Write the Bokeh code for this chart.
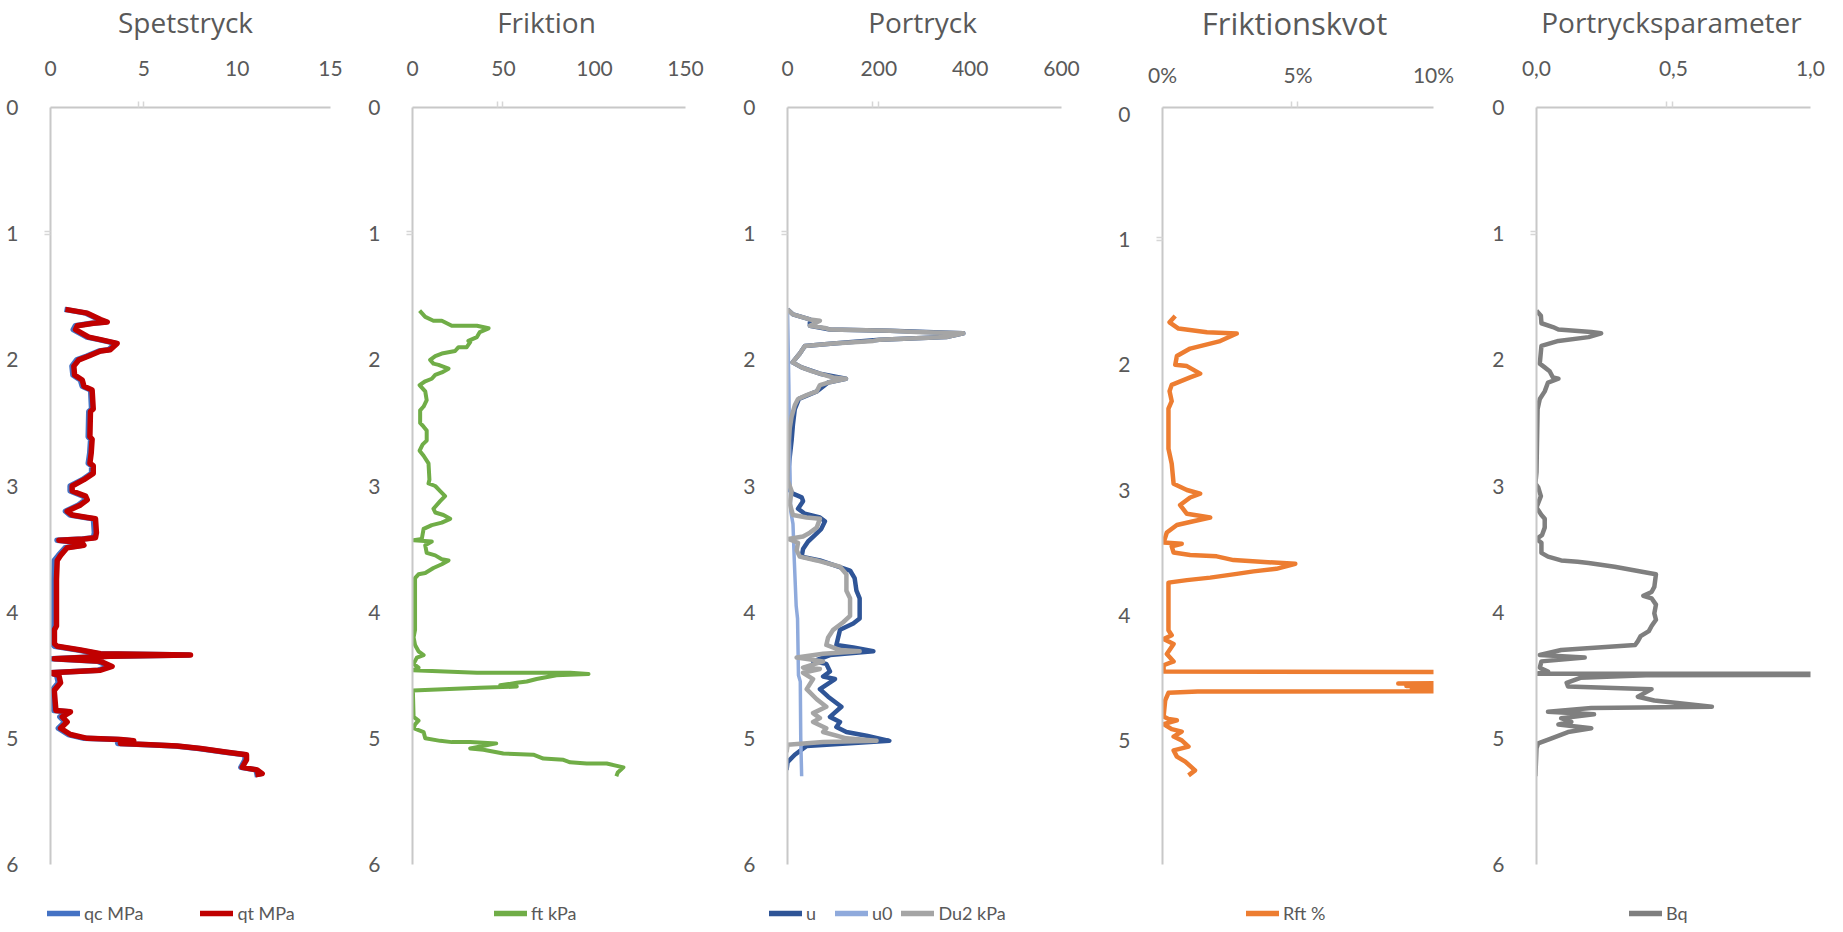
from bokeh.plotting import figure
from bokeh.models import Range1d, Legend, LegendItem, FixedTicker, Label
from bokeh.layouts import row, column
from bokeh.embed import file_html
from bokeh.resources import INLINE

# ---------------- data ----------------
depth_q = [1.60, 1.63, 1.68, 1.70, 1.71, 1.73, 1.76, 1.82, 1.84, 1.87, 1.92, 1.93, 1.97, 2.00, 2.05,
           2.12, 2.16, 2.21, 2.24, 2.39, 2.41, 2.61, 2.63, 2.74, 2.82, 2.84, 2.90, 2.95, 3.00, 3.04,
           3.08, 3.11, 3.15, 3.20, 3.23, 3.25, 3.26, 3.37, 3.41, 3.42, 3.43, 3.45, 3.47, 3.49, 3.55,
           3.59, 3.74, 4.11, 4.14, 4.25, 4.27, 4.30, 4.33, 4.34, 4.35, 4.37, 4.39, 4.43, 4.46, 4.48,
           4.50, 4.56, 4.62, 4.78, 4.79, 4.83, 4.87, 4.92, 4.97, 5.00, 5.01, 5.02, 5.04, 5.05, 5.06,
           5.08, 5.11, 5.13, 5.17, 5.23, 5.25, 5.28, 5.29]
qt_mpa = [0.8, 1.97, 2.68, 3.04, 2.3, 1.43, 1.34, 2.05, 2.68, 3.57, 3.2, 2.68, 2.05, 1.52, 1.25,
          1.29, 1.7, 1.79, 2.23, 2.29, 2.14, 2.11, 2.23, 2.18, 2.11, 2.29, 2.29, 1.79, 1.16, 1.16,
          1.88, 1.97, 1.61, 0.89, 1.16, 1.97, 2.41, 2.46, 2.41, 1.79, 0.45, 1.7, 1.79, 0.89, 0.54,
          0.36, 0.32, 0.32, 0.21, 0.21, 0.36, 1.61, 2.68, 7.5, 3.2, 0.2, 2.68, 3.3, 2.68, 0.0,
          0.45, 0.54, 0.2, 0.29, 1.07, 0.63, 0.89, 0.54, 1.07, 1.97, 3.75, 4.46, 3.75, 5.36, 6.79,
          8.04, 9.46, 10.5, 10.5, 10.27, 11.07, 11.34, 10.98]
qc_mpa = [0.75, 1.9, 2.6, 2.95, 2.2, 1.33, 1.22, 1.95, 2.6, 3.5, 3.1, 2.6, 1.95, 1.4, 1.15,
          1.2, 1.6, 1.7, 2.15, 2.2, 2.05, 2.02, 2.15, 2.1, 2.02, 2.2, 2.2, 1.7, 1.05, 1.05,
          1.75, 1.85, 1.5, 0.8, 1.05, 1.85, 2.3, 2.35, 2.3, 1.7, 0.35, 1.6, 1.7, 0.78, 0.42,
          0.2, 0.18, 0.18, 0.08, 0.08, 0.22, 1.48, 2.55, 7.4, 3.05, 0.08, 2.55, 3.18, 2.56, -0.05,
          0.33, 0.42, 0.08, 0.17, 0.96, 0.5, 0.77, 0.42, 0.95, 1.8, 3.6, 4.35, 3.6, 5.25, 6.7,
          7.95, 9.38, 10.42, 10.42, 10.2, 11.0, 11.28, 10.92]

depth_f = [1.61, 1.66, 1.69, 1.69, 1.73, 1.73, 1.75, 1.78, 1.82, 1.85, 1.86, 1.90, 1.90, 1.93, 1.95,
           1.97, 2.00, 2.03, 2.04, 2.07, 2.10, 2.12, 2.15, 2.17, 2.20, 2.25, 2.32, 2.37, 2.40, 2.50,
           2.53, 2.56, 2.64, 2.67, 2.72, 2.76, 2.82, 2.95, 2.98, 3.00, 3.04, 3.08, 3.12, 3.18, 3.21,
           3.23, 3.26, 3.29, 3.31, 3.34, 3.42, 3.43, 3.44, 3.47, 3.53, 3.55, 3.58, 3.59, 3.62, 3.65,
           3.69, 3.70, 3.73, 4.14, 4.20, 4.26, 4.31, 4.34, 4.36, 4.41, 4.44, 4.46, 4.48, 4.48, 4.49,
           4.50, 4.53, 4.55, 4.56, 4.58, 4.59, 4.60, 4.62, 4.83, 4.86, 4.89, 4.92, 4.95, 5.00, 5.02,
           5.03, 5.03, 5.04, 5.08, 5.09, 5.12, 5.13, 5.16, 5.17, 5.19, 5.20, 5.20, 5.23, 5.27, 5.30]
ft_kpa = [3.9, 7.0, 11.5, 16.1, 21.6, 35.4, 41.8, 37.0, 35.4, 30.7, 31.7, 29.8, 25.3, 23.4, 16.1,
          12.5, 9.7, 11.5, 14.3, 19.8, 16.1, 12.5, 10.6, 7.0, 3.9, 7.0, 7.8, 6.1, 4.2, 4.2,
          6.1, 7.8, 7.8, 5.6, 3.9, 6.1, 8.8, 9.3, 8.8, 12.5, 15.2, 17.9, 15.2, 11.5, 12.5,
          17.0, 20.7, 16.1, 10.6, 6.1, 5.1, 0.6, 10.6, 7.0, 7.8, 12.5, 16.1, 19.8, 16.1, 11.5,
          7.0, 3.3, 1.4, 1.4, 0.6, 1.4, 3.3, 6.1, 2.4, 0.6, 3.3, 0.2, 35.4, 86.7, 96.7,
          79.1, 68.2, 62.8, 57.3, 48.2, 57.3, 37.0, 0.2, 0.6, 3.3, 1.4, 0.6, 6.1, 7.0, 15.2,
          21.6, 31.7, 46.0, 31.7, 39.0, 49.9, 66.4, 71.9, 82.9, 86.6, 95.7, 106.7, 115.9, 112.8, 112.0]

depth_u = [1.60, 1.64, 1.68, 1.73, 1.76, 1.77, 1.79, 1.82, 1.84, 1.87, 1.89, 1.95, 2.02, 2.06, 2.11,
           2.15, 2.18, 2.25, 2.31, 2.39, 2.51, 2.64, 2.80, 2.95, 3.01, 3.06, 3.09, 3.12, 3.18, 3.22,
           3.25, 3.28, 3.34, 3.39, 3.44, 3.50, 3.56, 3.59, 3.67, 3.73, 3.83, 3.89, 4.05, 4.09, 4.14,
           4.26, 4.28, 4.31, 4.34, 4.39, 4.41, 4.47, 4.51, 4.53, 4.61, 4.67, 4.75, 4.83, 4.87, 4.91,
           4.95, 4.98, 5.02, 5.04, 5.06, 5.13, 5.19, 5.25]
u_kpa = [0, 12, 49, 49, 93, 224, 385, 348, 202, 100, 38, 27, 11, 31, 71,
         128, 89, 64, 25, 16, 12, 9, 4, 0, -2, 12, 31, 34, 23, 38,
         71, 82, 74, 60, 45, 34, 31, 71, 137, 147, 151, 158, 158, 144, 115,
         107, 144, 188, 93, 56, 85, 93, 78, 104, 71, 89, 118, 93, 115, 107,
         129, 173, 223, 129, 42, 16, 0, -2]

depth_u0 = [1.60, 2.20, 2.80, 3.20, 3.30, 3.60, 3.95, 4.05, 4.50, 4.55, 5.00, 5.30]
u0_kpa = [0, 3, 5, 7, 12, 15, 19, 22, 24, 28, 29, 31]

depth_du = [1.60, 1.64, 1.68, 1.69, 1.73, 1.75, 1.76, 1.77, 1.78, 1.79, 1.82, 1.84, 1.85, 1.87, 1.89,
            1.95, 2.02, 2.06, 2.09, 2.11, 2.14, 2.15, 2.18, 2.20, 2.25, 2.28, 2.31, 2.36, 2.45, 2.54,
            2.70, 2.95, 3.04, 3.14, 3.23, 3.25, 3.26, 3.33, 3.37, 3.40, 3.42, 3.45, 3.51, 3.56, 3.59,
            3.64, 3.70, 3.83, 3.89, 4.03, 4.08, 4.14, 4.20, 4.26, 4.30, 4.31, 4.33, 4.36, 4.39, 4.44,
            4.45, 4.48, 4.53, 4.61, 4.69, 4.75, 4.80, 4.84, 4.87, 4.92, 4.95, 5.00, 5.02, 5.03, 5.05,
            5.11]
du2_kpa = [0, 12, 49, 71, 49, 85, 93, 224, 282, 385, 348, 202, 188, 100, 38,
           27, 11, 31, 53, 71, 100, 128, 89, 71, 64, 42, 23, 16, 9, 5,
           1.5, 0, 9, 5, 12, 42, 71, 64, 49, 34, 1.5, 23, 20, 27, 64,
           115, 129, 129, 137, 137, 122, 100, 89, 85, 115, 158, 78, 20, 78, 34,
           71, 34, 56, 42, 64, 85, 56, 71, 56, 85, 78, 129, 195, 78, 0,
           -2]

depth_rf = [1.61, 1.66, 1.71, 1.74, 1.75, 1.81, 1.85, 1.87, 1.93, 2.00, 2.01, 2.07, 2.10, 2.16, 2.21,
            2.29, 2.35, 2.67, 2.79, 2.95, 3.00, 3.03, 3.06, 3.12, 3.19, 3.22, 3.25, 3.28, 3.34, 3.42,
            3.43, 3.45, 3.50, 3.52, 3.53, 3.56, 3.59, 3.63, 3.65, 3.67, 3.70, 3.72, 3.74, 4.12, 4.16,
            4.19, 4.23, 4.31, 4.37, 4.40, 4.45, 4.46, 4.54, 4.545, 4.55, 4.565, 4.58, 4.59, 4.60, 4.61,
            4.62, 4.68, 4.81, 4.83, 4.84, 4.87, 4.91, 4.93, 4.97, 5.00, 5.05, 5.08, 5.13, 5.17, 5.24,
            5.28]
rft_pct = [0.47, 0.26, 0.59, 1.64, 2.74, 2.13, 1.39, 1.02, 0.53, 0.47, 0.90, 1.39, 1.02, 0.34, 0.26,
           0.34, 0.22, 0.22, 0.34, 0.41, 0.90, 1.39, 1.02, 0.65, 0.90, 1.76, 1.14, 0.53, 0.16, 0.04,
           0.71, 0.34, 0.41, 1.02, 2.0, 2.62, 4.9, 4.2, 3.36, 2.74, 1.76, 0.90, 0.22, 0.22, 0.34,
           0.04, 0.41, 0.16, 0.41, 0.04, 0.04, 30.0, 30.0, 8.7, 30.0, 9.0, 30.0, 9.2, 30.0, 1.3,
           0.22, 0.10, 0.04, 0.22, 0.53, 0.04, 0.34, 0.71, 0.41, 0.71, 0.96, 0.41, 0.53, 0.84, 1.2,
           0.96]

depth_bq = [1.61, 1.65, 1.71, 1.74, 1.76, 1.78, 1.79, 1.82, 1.85, 1.89, 2.03, 2.06, 2.09, 2.14, 2.15,
            2.18, 2.25, 2.31, 2.39, 2.89, 2.98, 3.01, 3.08, 3.17, 3.23, 3.26, 3.33, 3.39, 3.42, 3.45,
            3.53, 3.56, 3.59, 3.60, 3.61, 3.64, 3.69, 3.70, 3.80, 3.84, 3.87, 3.89, 3.94, 4.01, 4.06,
            4.11, 4.15, 4.19, 4.23, 4.26, 4.30, 4.34, 4.36, 4.39, 4.44, 4.47, 4.488, 4.49, 4.50, 4.52,
            4.56, 4.59, 4.61, 4.67, 4.70, 4.75, 4.76, 4.79, 4.81, 4.84, 4.87, 4.89, 4.92, 4.95, 5.00,
            5.04, 5.08, 5.30]
bq = [0.0, 0.016, 0.018, 0.06, 0.08, 0.2, 0.236, 0.19, 0.08, 0.018, 0.012, 0.03, 0.048, 0.06, 0.08,
      0.042, 0.03, 0.012, 0.004, 0.0, -0.004, 0.006, 0.016, 0.0, 0.018, 0.03, 0.03, 0.02, 0.0, 0.018,
      0.018, 0.042, 0.09, 0.15, 0.19, 0.285, 0.41, 0.436, 0.43, 0.42, 0.39, 0.42, 0.436, 0.43, 0.436,
      0.42, 0.41, 0.38, 0.37, 0.36, 0.09, 0.012, 0.176, 0.018, 0.012, 0.042, 0.0, 3.0, 0.40, 0.16,
      0.11, 0.115, 0.42, 0.37, 0.43, 0.64, 0.2, 0.042, 0.21, 0.09, 0.127, 0.08, 0.2, 0.115, 0.055,
      0.006, 0.0, -0.004]

depth_ticks = [0, 1, 2, 3, 4, 5, 6]
depth_marks = [0.98, 1.005]          # the faint double mark beside depth 1

# ---------------- styling / layout ----------------
TEXT = "#595959"
AXIS = "#C8C8C8"
MARK = "#D6D6D6"
TICK_FONT = "Lato"
TITLE_FONT = "Open Sans"
TITLE_H = 50      # band holding the chart titles
CHART_TOP = 57    # room for the top axis labels (frame starts at 107 px)
FRAME_H = 757
CHART_BOTTOM = 20
LEGEND_H = 48     # band holding the legends (ends at 932 px)
NAN = float("nan")


def title_band(text, width, cx, cy, size):
    t = figure(width=width, height=TITLE_H, x_range=Range1d(0, width), y_range=Range1d(TITLE_H, 0),
               x_axis_type=None, y_axis_type=None, toolbar_location=None, output_backend="svg",
               min_border=0, title=None)
    t.outline_line_color = None
    t.grid.visible = False
    t.add_layout(Label(x=cx, y=cy, text=text, text_align="center", text_baseline="middle",
                       text_font=TITLE_FONT, text_font_size=size, text_color=TEXT))
    return t


def chart(xmax, xticks, xlabels, xmarks, width, left, right, y_bottom=6.0, y_top=0.0, x_standoff=26):
    p = figure(width=width, height=CHART_TOP + FRAME_H + CHART_BOTTOM,
               x_range=Range1d(0, xmax), y_range=Range1d(y_bottom, y_top),
               x_axis_location="above", output_backend="svg", toolbar_location=None,
               min_border_left=left, min_border_right=right,
               min_border_top=CHART_TOP, min_border_bottom=CHART_BOTTOM, title=None)
    p.outline_line_color = None
    p.grid.visible = False
    for ax in (p.xaxis[0], p.yaxis[0]):
        ax.axis_line_color = AXIS
        ax.axis_line_width = 2
        ax.major_tick_line_color = None
        ax.major_tick_out = 0
        ax.major_tick_in = 0
        ax.minor_tick_line_color = MARK
        ax.minor_tick_line_width = 1.5
        ax.minor_tick_out = 6
        ax.minor_tick_in = 0
        ax.major_label_text_font = TICK_FONT
        ax.major_label_text_font_size = "21px"
        ax.major_label_text_color = TEXT
    p.xaxis[0].ticker = FixedTicker(ticks=xticks, minor_ticks=xmarks)
    p.xaxis[0].major_label_overrides = {t: l for t, l in zip(xticks, xlabels)}
    p.xaxis[0].major_label_standoff = x_standoff
    p.yaxis[0].ticker = FixedTicker(ticks=depth_ticks, minor_ticks=depth_marks)
    p.yaxis[0].major_label_standoff = 26
    return p


def legend_band(width, entries, x, spacing):
    g = figure(width=width, height=LEGEND_H, x_range=Range1d(0, 1), y_range=Range1d(0, 1),
               x_axis_type=None, y_axis_type=None, toolbar_location=None, output_backend="svg",
               min_border=0, title=None)
    g.outline_line_color = None
    g.grid.visible = False
    items = []
    for label, color in entries:
        # a legend-only swatch: one undrawable (NaN) point carries the line style
        r = g.line(x=[NAN], y=[NAN], line_color=color, line_width=5.5, line_cap="round")
        items.append(LegendItem(label=label, renderers=[r]))
    g.add_layout(Legend(items=items, orientation="horizontal", location=(x, 8),
                        glyph_width=33, glyph_height=20, label_standoff=4, spacing=spacing,
                        padding=0, margin=0, border_line_color=None, background_fill_alpha=0,
                        label_text_font=TICK_FONT, label_text_font_size="18px",
                        label_text_color=TEXT))
    return g


# Panel 1 - Spetstryck (columns: 0-365 px)
t1 = title_band("Spetstryck", 365, 185, 21, "28px")
p1 = chart(15, [0, 5, 10, 15], ["0", "5", "10", "15"], [4.7, 4.97], 365, 50, 35)
p1.line(qc_mpa, depth_q, line_color="#4472C4", line_width=5.5, line_join="round")
p1.line(qt_mpa, depth_q, line_color="#C00000", line_width=5.5, line_join="round")
l1 = legend_band(365, [("qc MPa", "#4472C4"), ("qt MPa", "#C00000")], 47, 57)

# Panel 2 - Friktion (columns: 365-740 px)
t2 = title_band("Friktion", 375, 181, 21, "28px")
p2 = chart(150, [0, 50, 100, 150], ["0", "50", "100", "150"], [46.7, 49.7], 375, 47, 55)
p2.line(ft_kpa, depth_f, line_color="#70AD47", line_width=4, line_join="round")
l2 = legend_band(375, [("ft kPa", "#70AD47")], 129, 10)

# Panel 3 - Portryck
t3 = title_band("Portryck", 370, 182, 21, "28px")
p3 = chart(600, [0, 200, 400, 600], ["0", "200", "400", "600"], [187, 199], 370, 47, 49)
p3.line(u_kpa, depth_u, line_color="#2F5597", line_width=4.5, line_join="round")
p3.line(u0_kpa, depth_u0, line_color="#8FAADC", line_width=3.5, line_join="round")
p3.line(du2_kpa, depth_du, line_color="#A5A5A5", line_width=4.5, line_join="round")
l3 = legend_band(370, [("u", "#2F5597"), ("u0", "#8FAADC"), ("Du2 kPa", "#A5A5A5")], 29, 9)

# Panel 4 - Friktionskvot (its depth 0 sits 7 px lower than in the other panels)
t4 = title_band("Friktionskvot", 370, 184, 22, "31px")
p4 = chart(10, [0, 5, 10], ["0%", "5%", "10%"], [4.75, 4.98], 370, 52, 47,
           y_bottom=5.992, y_top=-0.056, x_standoff=15)
p4.line(rft_pct, depth_rf, line_color="#ED7D31", line_width=4.5, line_join="round")
l4 = legend_band(370, [("Rft %", "#ED7D31")], 136, 10)

# Panel 5 - Portrycksparameter
t5 = title_band("Portrycksparameter", 363, 191, 21, "28px")
p5 = chart(1, [0, 0.5, 1], ["0,0", "0,5", "1,0"], [0.475, 0.498], 363, 56, 33)
p5.line(bq, depth_bq, line_color="#7F7F7F", line_width=4.5, line_join="round")
l5 = legend_band(363, [("Bq", "#7F7F7F")], 149, 10)

layout = column(row(t1, t2, t3, t4, t5, spacing=0),
                row(p1, p2, p3, p4, p5, spacing=0),
                row(l1, l2, l3, l4, l5, spacing=0), spacing=0)
open("out.html", "w").write(file_html(layout, INLINE))
